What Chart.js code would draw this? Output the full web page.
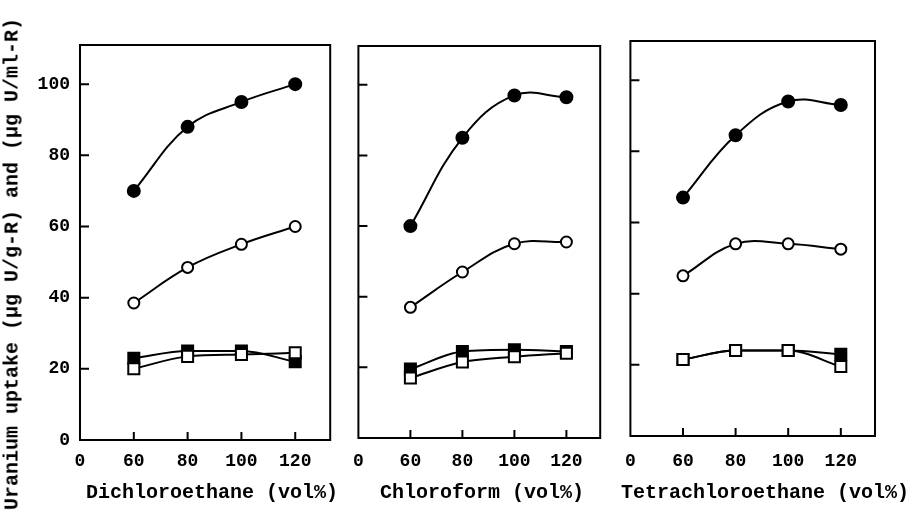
<!DOCTYPE html>
<html>
<head>
<meta charset="utf-8">
<script src="https://cdn.jsdelivr.net/npm/chart.js@4.4.0/dist/chart.umd.min.js"></script>
<style>
  body { margin: 0; background: #fff; width: 918px; height: 517px; position: relative; overflow: hidden; }
  canvas { position: absolute; top: 0; }
  .axisTitle {
    position: absolute; z-index: 2;
    white-space: nowrap; color: #000;
    font: bold 20px 'Liberation Mono', 'DejaVu Sans Mono', monospace;
  }
  #yTitle { left: 12px; top: 264px; transform: translate(-50%, -50%) rotate(-90deg); }
  .xTitle { top: 492px; transform: translate(-50%, -50%); }
</style>
</head>
<body>
<canvas id="c1" width="340" height="517" style="left:0"></canvas>
<canvas id="c2" width="270" height="517" style="left:340px"></canvas>
<canvas id="c3" width="308" height="517" style="left:610px"></canvas>
<div id="yTitle" class="axisTitle">Uranium uptake (µg U/g-R) and (µg U/ml-R)</div>
<script>
// x values (vol%) and tick labels
const volumes      = [60, 80, 100, 120];
const xTickLabels  = ['0', '60', '80', '100', '120'];
const yTickValues  = [0, 20, 40, 60, 80, 100];
const solventTitles = ['Dichloroethane (vol%)', 'Chloroform (vol%)', 'Tetrachloroethane (vol%)'];

// Dichloroethane
const dceFilledCircle = [70, 88, 95, 100];
const dceOpenCircle   = [38.5, 48.5, 55, 60];
const dceFilledSquare = [23, 25, 25, 22];
const dceOpenSquare   = [20, 23.5, 24, 24.5];

// Chloroform
const chlFilledCircle = [60, 85, 97, 96.5];
const chlOpenCircle   = [37, 47, 55, 55.5];
const chlFilledSquare = [19.5, 24.5, 25, 24.5];
const chlOpenSquare   = [17, 21.5, 23, 24];

// Tetrachloroethane
const tcaFilledCircle = [67, 84.5, 94, 93];
const tcaOpenCircle   = [45, 54, 54, 52.5];
const tcaFilledSquare = [21.5, 24, 24, 23];
const tcaOpenSquare   = [21.5, 24, 24, 19.5];

const X_MIN = 40, X_MAX = 133, Y_MAX = 111;
const FONT = "'Liberation Mono', 'DejaVu Sans Mono', monospace";
Chart.defaults.font.family = FONT;
Chart.defaults.color = '#000';

// marker look for each series, in the order drawn on top first
const markers = [
    { style: 'rect',   fill: '#fff', radius: 7.8, curve: 'monotone' },  // open square
    { style: 'rect',   fill: '#000', radius: 7.8, curve: 'monotone' },  // filled square
    { style: 'circle', fill: '#fff', radius: 5.5, curve: 'default' },   // open circle
    { style: 'circle', fill: '#000', radius: 6,   curve: 'default' },   // filled circle
];

const panels = [
    { id: 'c1', w: 340, left: 80, right: 335, top: 45, bottom: 440, yLabels: true, titleX: 212,
      series: [dceOpenSquare, dceFilledSquare, dceOpenCircle, dceFilledCircle] },
    { id: 'c2', w: 270, left: 13, right: 265, top: 46, bottom: 438, yLabels: false, titleX: 482,
      series: [chlOpenSquare, chlFilledSquare, chlOpenCircle, chlFilledCircle] },
    { id: 'c3', w: 308, left: 15, right: 265, top: 41, bottom: 436, yLabels: false, titleX: 765,
      series: [tcaOpenSquare, tcaFilledSquare, tcaOpenCircle, tcaFilledCircle] },
];

// box frame plus inward tick marks
const framePlugin = {
    id: 'frame',
    beforeDatasetsDraw(chart) {
        const { ctx, chartArea: { left, right, top, bottom }, scales: { x, y } } = chart;
        ctx.save();
        ctx.strokeStyle = '#000';
        ctx.lineWidth = 2;
        ctx.strokeRect(left, top, right - left, bottom - top);
        ctx.beginPath();
        yTickValues.forEach(v => {
            const py = y.getPixelForValue(v);
            ctx.moveTo(left, py);
            ctx.lineTo(left + 9, py);
        });
        volumes.forEach(v => {
            const px = x.getPixelForValue(v);
            ctx.moveTo(px, bottom);
            ctx.lineTo(px, bottom - 8);
        });
        ctx.stroke();
        ctx.restore();
    }
};

panels.forEach((p, k) => {
    // solvent title under each panel (html text so it is not squeezed to the plot width)
    const t = document.createElement('div');
    t.className = 'axisTitle xTitle';
    t.style.left = p.titleX + 'px';
    t.textContent = solventTitles[k];
    document.body.appendChild(t);

    new Chart(document.getElementById(p.id), {
        type: 'line',
        data: {
            datasets: p.series.map((vals, i) => ({
                data: vals.map((v, j) => ({ x: volumes[j], y: v })),
                borderColor: '#000',
                borderWidth: 2,
                tension: 0.4,
                cubicInterpolationMode: markers[i].curve,
                fill: false,
                pointStyle: markers[i].style,
                pointRadius: markers[i].radius,
                pointBackgroundColor: markers[i].fill,
                pointBorderColor: '#000',
                pointBorderWidth: 2,
            }))
        },
        plugins: [framePlugin],
        options: {
            responsive: false,
            animation: false,
            devicePixelRatio: 1,
            layout: { padding: { left: 0, top: p.top, right: p.w - p.right, bottom: 0 } },
            plugins: { legend: { display: false }, tooltip: { enabled: false } },
            scales: {
                x: {
                    type: 'linear',
                    min: X_MIN,
                    max: X_MAX,
                    afterBuildTicks: s => { s.ticks = [X_MIN, ...volumes].map(v => ({ value: v })); },
                    afterFit: s => { s.height = 517 - p.bottom; },
                    ticks: {
                        autoSkip: false,
                        maxRotation: 0,
                        padding: 461 - p.bottom - 10,
                        font: { size: 18, weight: 'bold' },
                        callback: (v, i) => xTickLabels[i],
                    },
                    grid: { display: false, drawTicks: false },
                    border: { display: false },
                },
                y: {
                    min: 0,
                    max: Y_MAX,
                    afterBuildTicks: s => { s.ticks = yTickValues.map(v => ({ value: v })); },
                    afterFit: s => { s.width = p.left; },
                    ticks: {
                        display: p.yLabels,
                        padding: 10,
                        font: { size: 18, weight: 'bold' },
                    },
                    grid: { display: false, drawTicks: false },
                    border: { display: false },
                },
            },
        },
    });
});
</script>
</body>
</html>
